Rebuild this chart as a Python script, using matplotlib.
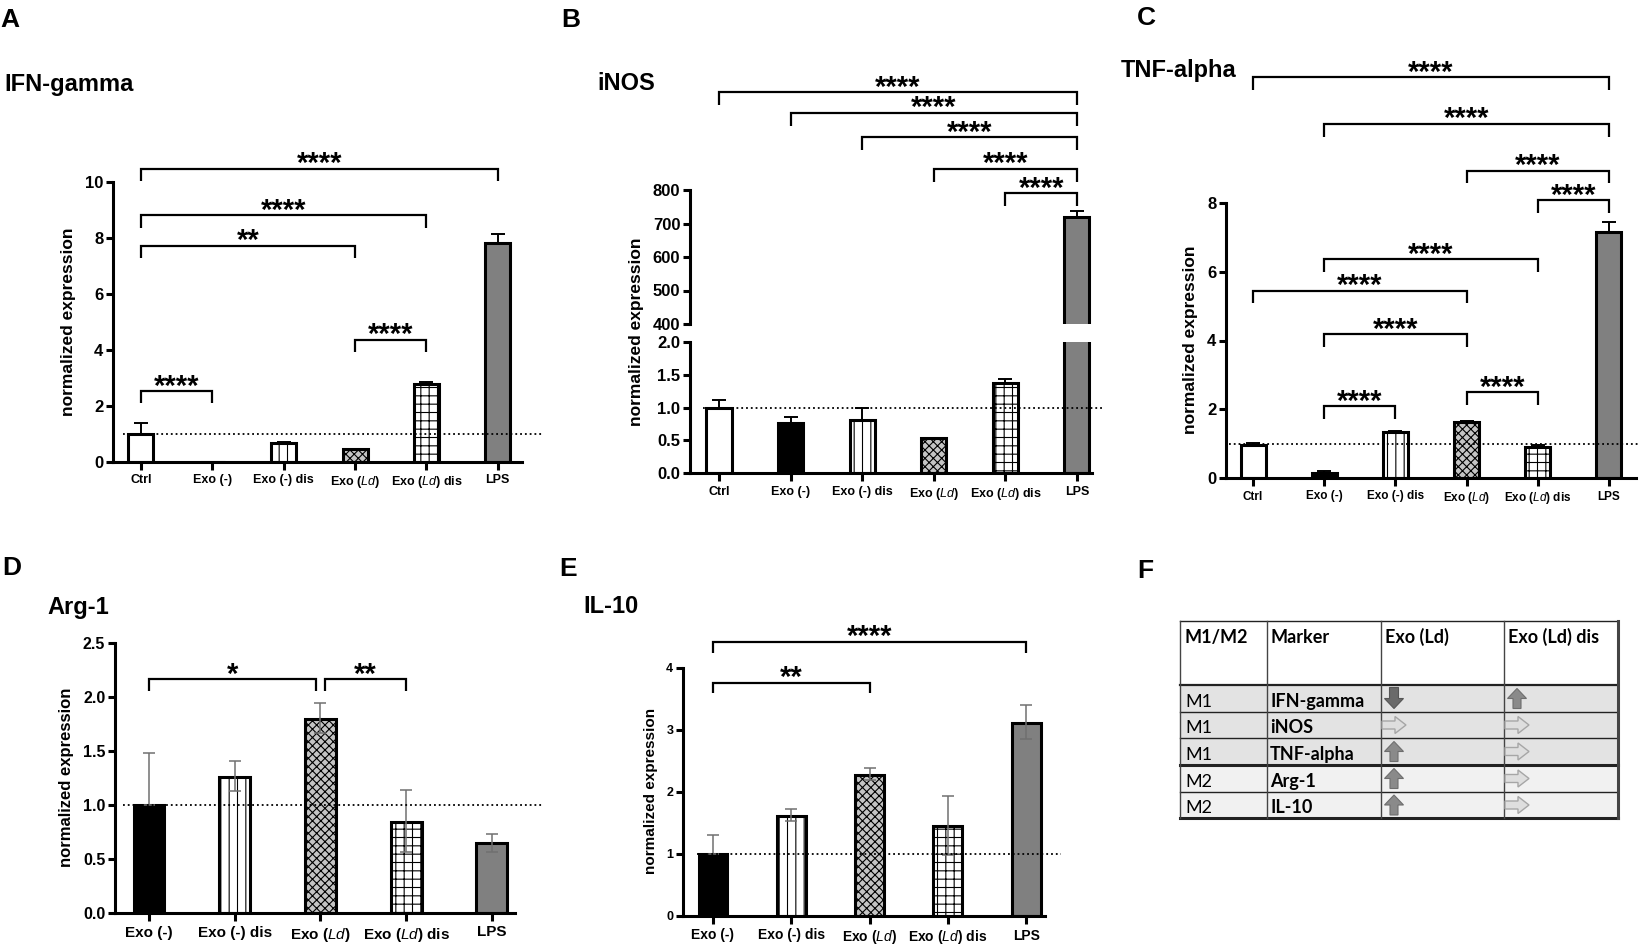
import matplotlib
matplotlib.use('Agg')
import matplotlib.pyplot as plt
from matplotlib.patches import Rectangle, FancyArrow
from matplotlib.ticker import FormatStrFormatter

# ---------------- data ----------------
LD = r'Exo ($\mathit{Ld}$)'
LDD = r'Exo ($\mathit{Ld}$) dis'
groups6 = ['Ctrl', 'Exo (-)', 'Exo (-) dis', LD, LDD, 'LPS']
groups5 = ['Exo (-)', 'Exo (-) dis', LD, LDD, 'LPS']

# A  IFN-gamma
ifn_mean = [1.0, 0.0, 0.67, 0.46, 2.79, 7.83]
ifn_err_up = [0.39, 0.0, 0.03, 0.02, 0.06, 0.32]
ifn_sig = [(0, 1, 2.53, '****'), (3, 4, 4.36, '****'), (0, 3, 7.72, '**'),
           (0, 4, 8.81, '****'), (0, 5, 10.47, '****')]

# B  iNOS (broken axis)
inos_mean = [1.0, 0.77, 0.81, 0.54, 1.37, 718.6]
inos_err_up = [0.11, 0.09, 0.19, 0.0, 0.06, 20.0]
inos_sig = [(4, 5, 791, '****'), (3, 5, 863, '****'), (2, 5, 958, '****'),
            (1, 5, 1030, '****'), (0, 5, 1092, '****')]

# C  TNF-alpha
tnf_mean = [0.97, 0.15, 1.33, 1.63, 0.90, 7.17]
tnf_err_up = [0.05, 0.04, 0.03, 0.04, 0.05, 0.28]
tnf_sig = [(1, 2, 2.085, '****'), (3, 4, 2.50, '****'), (1, 3, 4.19, '****'),
           (0, 3, 5.45, '****'), (1, 4, 6.37, '****'), (4, 5, 8.08, '****'),
           (3, 5, 8.94, '****'), (1, 5, 10.30, '****'), (0, 5, 11.66, '****')]

# D  Arg-1
arg_mean = [1.0, 1.256, 1.80, 0.845, 0.644]
arg_err_up = [0.485, 0.15, 0.14, 0.29, 0.09]
arg_err_lo = [0.0, 0.13, 0.13, 0.28, 0.08]
arg_sig = [(0, 1.95, 2.166, '*'), (2.05, 3, 2.166, '**')]

# E  IL-10
il10_mean = [1.0, 1.61, 2.28, 1.45, 3.11]
il10_err_up = [0.31, 0.11, 0.11, 0.48, 0.29]
il10_err_lo = [0.0, 0.07, 0.09, 0.46, 0.26]
il10_sig = [(0, 2, 3.76, '**'), (0, 4, 4.42, '****')]

# F  table
table_header = ['M1/M2', 'Marker', 'Exo (Ld)', 'Exo (Ld) dis']
table_type = ['M1', 'M1', 'M1', 'M2', 'M2']
table_marker = ['IFN-gamma', 'iNOS', 'TNF-alpha', 'Arg-1', 'IL-10']
table_exo_ld = ['down', 'right', 'up', 'up', 'up']
table_exo_ld_dis = ['up', 'right', 'right', 'right', 'right']

# ---------------- style ----------------
W, H = 1639, 944
plt.rcParams['font.family'] = ['Liberation Sans', 'DejaVu Sans']
plt.rcParams['mathtext.fontset'] = 'custom'
plt.rcParams['mathtext.rm'] = 'Liberation Sans'
plt.rcParams['mathtext.it'] = 'Liberation Sans:italic'
plt.rcParams['mathtext.bf'] = 'Liberation Sans:bold'
plt.rcParams['hatch.linewidth'] = 0.8

bar_style = {
    'Ctrl': ('white', None),
    'Exo (-)': ('black', None),
    'Exo (-) dis': ('white', '||'),
    LD: ('#c4c4c4', 'xxxx'),
    LDD: ('white', '++'),
    'LPS': ('#808080', None),
}

fig = plt.figure(figsize=(W / 100, H / 100), dpi=100)


def px_axes(x0, y0, x1, y1):
    return fig.add_axes([x0 / W, 1 - y1 / H, (x1 - x0) / W, (y1 - y0) / H])


def style_axes(ax, xlim, ylim, yticks, yfs, xfs, labels, fmt=None, show_x=True):
    ax.set_xlim(*xlim)
    ax.set_ylim(*ylim)
    ax.patch.set_alpha(0)
    for s in ['top', 'right']:
        ax.spines[s].set_visible(False)
    ax.spines['left'].set_linewidth(2.2)
    ax.spines['bottom'].set_linewidth(2.2)
    ax.set_yticks(yticks)
    if fmt:
        ax.yaxis.set_major_formatter(FormatStrFormatter(fmt))
    ax.tick_params(axis='y', length=5, width=2.2, labelsize=yfs, pad=2)
    for t in ax.get_yticklabels():
        t.set_fontweight('bold')
    if show_x:
        ax.set_xticks(range(len(labels)))
        ax.set_xticklabels(labels, fontweight='bold', fontsize=xfs)
        ax.tick_params(axis='x', length=6, width=2.2, pad=3)
    else:
        ax.spines['bottom'].set_visible(False)
        ax.set_xticks([])


def draw_bars(ax, labels, means, width, lw=2.2):
    for i, (lab, m) in enumerate(zip(labels, means)):
        fc, hatch = bar_style[lab]
        ax.bar(i, m, width=width, facecolor=fc, hatch=hatch, edgecolor='black',
               linewidth=lw, zorder=2)


def bracket(ax, i, j, y, leg, text, fs=21, lw=1.6):
    ax.plot([i, i, j, j], [y - leg, y, y, y - leg], color='black', lw=lw,
            clip_on=False, zorder=5, solid_capstyle='butt', solid_joinstyle='miter')
    ax.annotate(text, xy=((i + j) / 2, y), xytext=(0, -2.5), textcoords='offset points',
                ha='center', va='baseline', fontsize=fs, fontweight='bold',
                annotation_clip=False, zorder=6)


def dotted(ax, x0, x1, y=1.0):
    ax.plot([x0, x1], [y, y], linestyle=':', color='black', lw=1.3,
            clip_on=False, zorder=6)


def ylabel(x, y, fs):
    fig.text(x / W, 1 - y / H, 'normalized expression', rotation=90, ha='center',
             va='center', fontsize=fs, fontweight='bold')


def label(x, y, s, fs, weight='bold'):
    fig.text(x / W, 1 - y / H, s, ha='left', va='baseline', fontsize=fs, fontweight=weight)


# ---------------- Panel A ----------------
axA = px_axes(113, 182, 522, 462)
style_axes(axA, (-0.392, 5.34), (0, 10), [0, 2, 4, 6, 8, 10], 12, 9, groups6)
draw_bars(axA, groups6, ifn_mean, 0.35)
axA.errorbar(range(6), ifn_mean, yerr=[[0] * 6, ifn_err_up], fmt='none', ecolor='black',
             elinewidth=1.4, capsize=5, capthick=1.4, zorder=1)
dotted(axA, -0.25, 5.63)
for i, j, y, s in ifn_sig:
    bracket(axA, i, j, y, 0.44, s)
ylabel(69, 322, 12.5)
label(0, 27, 'A', 19)
label(4, 91, 'IFN-gamma', 17)

# ---------------- Panel B ----------------
axBl = px_axes(690, 342, 1092, 473)
style_axes(axBl, (-0.405, 5.21), (0, 2.0), [0, 0.5, 1.0, 1.5, 2.0], 12, 9, groups6, fmt='%.1f')
draw_bars(axBl, groups6, inos_mean, 0.35)
axBl.errorbar(range(6), inos_mean, yerr=[[0] * 6, inos_err_up], fmt='none', ecolor='black',
              elinewidth=1.4, capsize=5, capthick=1.4, zorder=1)
dotted(axBl, -0.22, 5.35)

axBu = px_axes(690, 190, 1092, 324)
style_axes(axBu, (-0.405, 5.21), (400, 800), [400, 500, 600, 700, 800], 12, 9, groups6,
           show_x=False)
draw_bars(axBu, groups6, inos_mean, 0.35)
axBu.errorbar(range(6), inos_mean, yerr=[[0] * 6, inos_err_up], fmt='none', ecolor='black',
              elinewidth=1.4, capsize=5, capthick=1.4, zorder=1)
for i, j, y, s in inos_sig:
    bracket(axBu, i, j, y, 39, s)
ylabel(637, 332, 12.5)
label(561, 27, 'B', 19)
label(597, 90, 'iNOS', 17)

# ---------------- Panel C ----------------
axC = px_axes(1226, 203, 1636, 478)
style_axes(axC, (-0.38, 5.38), (0, 8), [0, 2, 4, 6, 8], 12, 8.5, groups6)
draw_bars(axC, groups6, tnf_mean, 0.35)
axC.errorbar(range(6), tnf_mean, yerr=[[0] * 6, tnf_err_up], fmt='none', ecolor='black',
             elinewidth=1.4, capsize=5, capthick=1.4, zorder=1)
dotted(axC, -0.34, 5.42)
for i, j, y, s in tnf_sig:
    bracket(axC, i, j, y, 0.37, s)
ylabel(1190, 340, 12.5)
label(1137, 25, 'C', 19)
label(1121, 77, 'TNF-alpha', 17)

# ---------------- Panel D ----------------
axD = px_axes(115, 643, 515, 913)
style_axes(axD, (-0.397, 4.27), (0, 2.5), [0, 0.5, 1.0, 1.5, 2.0, 2.5], 11.5, 11, groups5,
           fmt='%.1f')
draw_bars(axD, groups5, arg_mean, 0.36)
axD.errorbar(range(5), arg_mean, yerr=[arg_err_lo, arg_err_up], fmt='none', ecolor='#707070',
             elinewidth=1.1, capsize=4.5, capthick=1.1, zorder=4)
dotted(axD, -0.3, 4.6)
for i, j, y, s in arg_sig:
    bracket(axD, i, j, y, 0.11, s)
ylabel(67, 777, 12)
label(2, 575, 'D', 19)
label(47, 614, 'Arg-1', 17)

# ---------------- Panel E ----------------
axE = px_axes(683, 668, 1045, 916)
style_axes(axE, (-0.383, 4.24), (0, 4), [0, 1, 2, 3, 4], 9, 10, groups5)
draw_bars(axE, groups5, il10_mean, 0.37)
axE.errorbar(range(5), il10_mean, yerr=[il10_err_lo, il10_err_up], fmt='none',
             ecolor='#707070', elinewidth=1.1, capsize=4.5, capthick=1.1, zorder=4)
dotted(axE, -0.2, 4.44)
for i, j, y, s in il10_sig:
    bracket(axE, i, j, y, 0.17, s)
ylabel(651, 791, 11)
label(559, 576, 'E', 19)
label(583, 613, 'IL-10', 17)

# ---------------- Panel F (table) ----------------
label(1137, 578, 'F', 19)
ov = fig.add_axes([0, 0, 1, 1], facecolor='none')
ov.set_xlim(0, W)
ov.set_ylim(H, 0)
ov.axis('off')

col_x = [1180, 1267, 1381, 1504, 1618]
row_y = [621, 685, 712, 738, 765, 792, 818]
row_fill = {'M1': '#e3e3e3', 'M2': '#f1f1f1'}
tfont = ['Lato', 'Liberation Sans', 'DejaVu Sans']

for r, t in enumerate(table_type):
    ov.add_patch(Rectangle((col_x[0], row_y[r + 1]), col_x[-1] - col_x[0],
                           row_y[r + 2] - row_y[r + 1], facecolor=row_fill[t],
                           edgecolor='none', zorder=1))
for k, y in enumerate(row_y):
    lw = 2.2 if y in (765, 818) else (1.6 if y == 685 else 1.0)
    ov.plot([col_x[0], col_x[-1]], [y, y], color='#222222', lw=lw, zorder=3)
for k, x in enumerate(col_x):
    lw = 2.2 if k == len(col_x) - 1 else 1.0
    ov.plot([x, x], [row_y[0], row_y[-1]], color='#444444', lw=lw, zorder=3)

for c, h in enumerate(table_header):
    ov.text(col_x[c] + 4, 643, h, fontsize=13, fontweight='bold', family=tfont,
            ha='left', va='baseline', zorder=4)
for r in range(len(table_type)):
    base = row_y[r + 2] - 5
    ov.text(col_x[0] + 5, base, table_type[r], fontsize=13, family=tfont,
            ha='left', va='baseline', zorder=4)
    ov.text(col_x[1] + 3, base, table_marker[r], fontsize=13, fontweight='bold',
            family=tfont, ha='left', va='baseline', zorder=4)


def arrow(cx, cy, kind):
    if kind == 'up':
        a = FancyArrow(cx, cy + 10, 0, -20, width=8, head_width=19, head_length=10,
                       length_includes_head=True, facecolor='#8a8a8a',
                       edgecolor='#6e6e6e', lw=0.8, zorder=5)
    elif kind == 'down':
        a = FancyArrow(cx, cy - 11, 0, 21, width=9, head_width=19, head_length=10,
                       length_includes_head=True, facecolor='#6a6a6a',
                       edgecolor='#555555', lw=0.8, zorder=5)
    else:
        a = FancyArrow(cx - 12, cy, 24, 0, width=8, head_width=17, head_length=11,
                       length_includes_head=True, facecolor='#dedede',
                       edgecolor='#a6a6a6', lw=1.0, zorder=5)
    ov.add_patch(a)


for r in range(len(table_type)):
    cy = (row_y[r + 1] + row_y[r + 2]) / 2
    arrow(1394, cy, table_exo_ld[r])
    arrow(1517, cy, table_exo_ld_dis[r])

fig.savefig('out.png', dpi=100)
